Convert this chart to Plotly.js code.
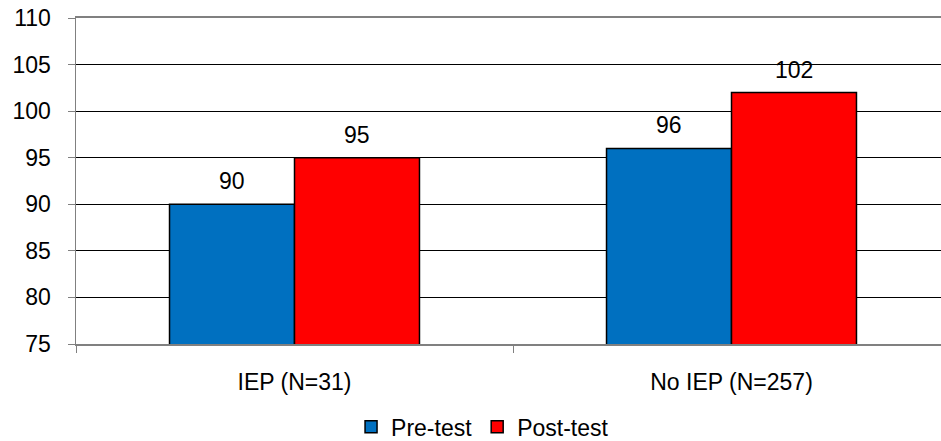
<!DOCTYPE html>
<html>
<head>
<meta charset="utf-8">
<script src="https://cdn.plot.ly/plotly-3.0.1.min.js"></script>
<style>html,body{margin:0;padding:0;background:#fff;}#chart{width:941px;height:441px;}</style>
</head>
<body>
<div id="chart"></div>
<script>
const categories = ["IEP (N=31)", "No IEP (N=257)"];
const preTest = [90, 96];
const postTest = [95, 102];
const seriesNames = ["Pre-test", "Post-test"];
const yTicks = [75, 80, 85, 90, 95, 100, 105, 110];

const FONT = "Liberation Sans, Arial, sans-serif";
const FS = 23;
const BARGAP = 0.428;
const common = {
  type: "bar",
  x: categories,
  hoverinfo: "skip"
};
const data = [
  Object.assign({}, common, {
    name: seriesNames[0], y: preTest,
    marker: {color: "#0070C0", line: {color: "#000", width: 1.5}}
  }),
  Object.assign({}, common, {
    name: seriesNames[1], y: postTest,
    marker: {color: "#FF0000", line: {color: "#000", width: 1.5}}
  })
];

// value labels above bars, placed through the axis scales
const half = (1 - BARGAP) / 4;
const annotations = [];
[preTest, postTest].forEach((vals, s) => {
  vals.forEach((v, i) => {
    annotations.push({
      xref: "x", yref: "y", x: i + (s === 0 ? -half : half), y: v,
      text: String(v), showarrow: false, yanchor: "bottom", yshift: 8,
      font: {family: FONT, size: FS, color: "#000"}
    });
  });
});

const layout = {
  width: 941, height: 441,
  margin: {l: 76, r: 0, t: 18, b: 97, autoexpand: false},
  paper_bgcolor: "#fff", plot_bgcolor: "#fff",
  font: {family: FONT, size: FS, color: "#000"},
  barmode: "group",
  bargap: BARGAP,
  bargroupgap: 0,
  showlegend: true,
  annotations: annotations,
  legend: {
    orientation: "h", x: 0.47, xanchor: "center", y: -0.188, yanchor: "top",
    font: {family: FONT, size: FS, color: "#000"},
    itemwidth: 30, tracegroupgap: 0
  },
  xaxis: {
    type: "category",
    range: [-0.5, 1.4794],
    tickson: "boundaries",
    ticks: "outside", ticklen: 7, tickcolor: "#808080", tickwidth: 1,
    showline: true, linecolor: "#808080", linewidth: 2, mirror: true,
    showgrid: false, automargin: false,
    ticklabelstandoff: 16,
    tickfont: {family: FONT, size: FS, color: "#000"}
  },
  yaxis: {
    range: [75, 110],
    tickvals: yTicks,
    ticktext: yTicks.map(String),
    ticks: "outside", ticklen: 7, tickcolor: "#808080", tickwidth: 1,
    showline: true, linecolor: "#808080", linewidth: 1.5,
    showgrid: true, gridcolor: "#000", gridwidth: 1,
    zeroline: false, automargin: false,
    ticklabelstandoff: 12,
    tickfont: {family: FONT, size: FS, color: "#000"}
  }
};

Plotly.newPlot("chart", data, layout, {displayModeBar: false, staticPlot: true});
</script>
</body>
</html>
